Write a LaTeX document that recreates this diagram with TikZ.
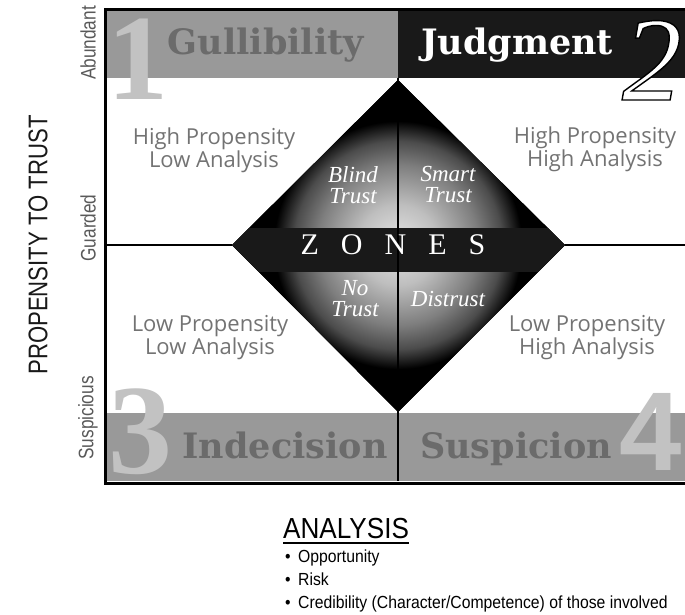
\documentclass[tikz,border=0pt]{standalone}
\usepackage{fontspec}
\setmainfont{Liberation Serif}
\newfontfamily\headfont{DejaVu Serif}
\newfontfamily\bignumfont{Liberation Serif}
\newfontfamily\bignumsans{Liberation Sans}
\newfontfamily\quadfont{Open Sans}
\newfontfamily\narrowfont[FakeStretch=0.82]{Liberation Sans}
\newfontfamily\listfont[FakeStretch=0.9]{Liberation Sans}
\newfontfamily\zonefont{Liberation Serif}

\definecolor{bargray}{gray}{0.6}
\definecolor{headgray}{gray}{0.42}
\definecolor{numgray}{gray}{0.76}
\definecolor{quadgray}{gray}{0.45}
\definecolor{sidegray}{gray}{0.35}
\definecolor{inkblack}{gray}{0.1}
\definecolor{glow}{gray}{0.9}

% radial glow inside the diamond: bright core fading to black
% (25bp corresponds to the radius of the shaded circle)
\pgfdeclareradialshading{zoneglow}{\pgfpoint{0bp}{0bp}}{%
  color(0bp)=(glow); color(5bp)=(glow!83!black); color(10bp)=(glow!55!black);
  color(13bp)=(glow!33!black); color(15.5bp)=(black); color(50bp)=(black)}

\newcommand{\zonesword}{Z\hspace{22pt}O\hspace{22pt}N\hspace{22pt}E\hspace{22pt}S}
% white glyph with a thin black outline (fill + stroke text rendering)
\newcommand{\outlined}[1]{\special{pdf:literal direct 2 Tr 1.4 w 0 0 0 RG}#1\special{pdf:literal direct 0 Tr}}

\tikzset{
  header/.style={anchor=base, inner sep=0pt, font=\headfont\bfseries\fontsize{35}{35}\selectfont},
  bignum/.style={anchor=base, inner sep=0pt, text=numgray},
  quadtext/.style={align=center, text=quadgray, inner sep=0pt, font=\quadfont\fontsize{22}{23}\selectfont},
  zonelabel/.style={align=center, text=white, inner sep=0pt, font=\itshape\fontsize{23}{21}\selectfont},
  sidelabel/.style={rotate=90, text=sidegray, inner sep=0pt, font=\narrowfont\fontsize{21}{21}\selectfont},
  listitem/.style={anchor=base west, inner sep=0pt, font=\listfont\fontsize{17.5}{20}\selectfont},
  divider/.style={line width=1.6pt, black}
}

\begin{document}
\begin{tikzpicture}[x=1pt,y=-1pt]
\useasboundingbox (0,0) rectangle (685,615);

% header and footer bars
\fill[bargray] (106,11) rectangle (398,78);
\fill[inkblack] (398,11) rectangle (690,78);
\fill[bargray] (106,413) rectangle (690,481);

% large quadrant numerals
\node[bignum, font=\bignumfont\bfseries\fontsize{122}{122}\selectfont] (n1) at (138,100) {1};
\node[bignum, font=\bignumfont\bfseries\fontsize{128}{128}\selectfont] (n3) at (140,473) {3};
\node[bignum, font=\bignumsans\bfseries\fontsize{112}{112}\selectfont] (n4) at (651,470) {4};
\node[bignum, text=white, font=\bignumfont\itshape\fontsize{120}{120}\selectfont] (n2) at (652,100) {\outlined{2}};

% zone headings
\node[header, text=headgray] (gull) at (266,55) {Gullibility};
\node[header, text=white] (judg) at (517,55) {Judgment};
\node[header, text=headgray] (inde) at (285,458) {Indecision};
\node[header, text=headgray] (susp) at (516,458) {Suspicion};

% diamond of trust zones
\coordinate (dT) at (398,80);
\coordinate (dR) at (565,245);
\coordinate (dB) at (398,412);
\coordinate (dL) at (232,245);
\begin{scope}
  \clip (dT) -- (dR) -- (dB) -- (dL) -- cycle;
  \fill[black] (220,70) rectangle (580,420);
  \shade[shading=zoneglow] (398,245) circle (200pt);
  \fill[inkblack] (220,228) rectangle (580,272);
\end{scope}

% dividing lines
\coordinate (topmid) at (398,78);
\coordinate (botmid) at (398,481);
\coordinate (leftmid) at (106,245);
\coordinate (rightmid) at (690,245);
\draw[divider] (topmid) -- (botmid);
\draw[divider] (leftmid) -- (dL);
\draw[divider] (dR) -- (rightmid);

% outer frame
\draw[line width=3pt, black] (690,10) -- (105,10) -- (105,483) -- (690,483);

% diamond labels
\node[text=white, inner sep=0pt, font=\zonefont\fontsize{30}{30}\selectfont] (zones) at (393,245) {\zonesword};
\node[zonelabel] (blind) at (353,185) {Blind\\Trust};
\node[zonelabel] (smart) at (448,185) {Smart\\Trust};
\node[zonelabel] (notrust) at (355,299) {No\\Trust};
\node[zonelabel] (distrust) at (448,299) {Distrust};

% quadrant descriptions
\node[quadtext] (qtl) at (214,150) {High Propensity\\Low Analysis};
\node[quadtext] (qtr) at (595,149) {High Propensity\\High Analysis};
\node[quadtext] (qbl) at (210,338) {Low Propensity\\Low Analysis};
\node[quadtext] (qbr) at (587,338) {Low Propensity\\High Analysis};

% vertical axis
\node[sidelabel, text=black!90, font=\narrowfont\fontsize{27}{27}\selectfont] (axis) at (38,245) {PROPENSITY TO TRUST};
\node[sidelabel] (abund) at (88,43) {Abundant};
\node[sidelabel] (guard) at (88,228) {Guarded};
\node[sidelabel] (suspi) at (88,418) {Suspicious};

% horizontal axis legend
\node[anchor=base west, inner sep=0pt, font=\listfont\fontsize{29}{29}\selectfont] (analysis) at (283,538) {ANALYSIS};
\draw[line width=1.4pt] ([yshift=-5pt]analysis.base west) -- ([yshift=-5pt]analysis.base east);
\node[listitem] (b1) at (285,562) {\textbullet};
\node[listitem] (i1) at (298,562) {Opportunity};
\node[listitem] (b2) at (285,585) {\textbullet};
\node[listitem] (i2) at (298,585) {Risk};
\node[listitem] (b3) at (285,608) {\textbullet};
\node[listitem] (i3) at (298,608) {Credibility (Character/Competence) of those involved};
\end{tikzpicture}
\end{document}
